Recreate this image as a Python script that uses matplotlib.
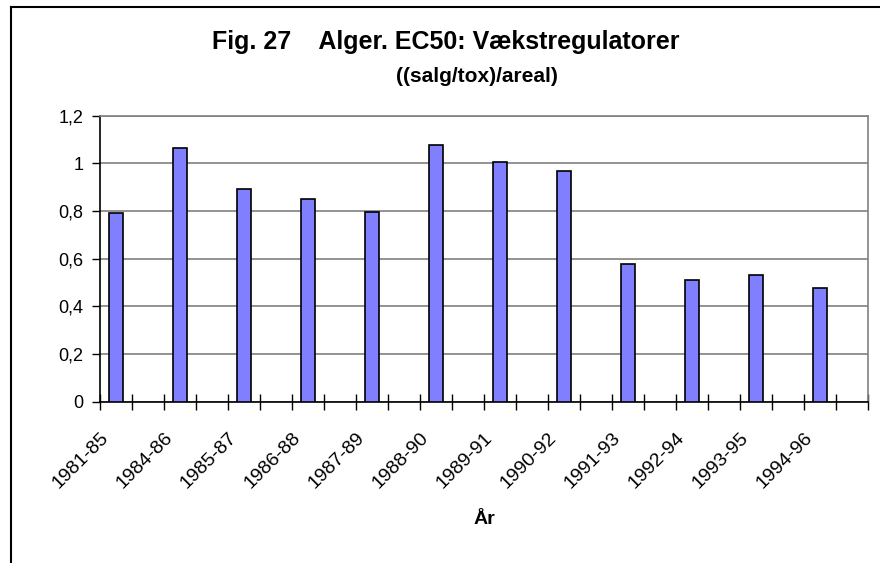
import numpy as np
import matplotlib.pyplot as plt
from matplotlib.lines import Line2D
from matplotlib.ticker import FuncFormatter, MultipleLocator
from matplotlib.transforms import ScaledTranslation

plt.rcParams['font.family'] = ['Liberation Sans', 'DejaVu Sans']

# perioder og værdier
perioder = ['1981-85', '1984-86', '1985-87', '1986-88', '1987-89', '1988-90',
            '1989-91', '1990-92', '1991-93', '1992-94', '1993-95', '1994-96']
vaerdier = [0.79, 1.066, 0.891, 0.849, 0.797, 1.076,
            1.007, 0.967, 0.579, 0.512, 0.530, 0.478]

fig = plt.figure(figsize=(8.8, 5.63), dpi=100)
ax = fig.add_axes([100 / 880, 1 - 401.7 / 563, 768 / 880, 286 / 563])

# hver periode står i hver anden kategori, tomme kategorier imellem
x = np.arange(len(perioder)) * 2
ax.bar(x, vaerdier, width=0.42, color='#8080FF', edgecolor='black',
       linewidth=1.2, zorder=3)

ax.set_xlim(-0.5, 2 * len(perioder) - 0.5)
ax.set_ylim(0, 1.2)
ax.yaxis.set_major_locator(MultipleLocator(0.2))
ax.yaxis.set_major_formatter(FuncFormatter(lambda v, p: f'{v:g}'.replace('.', ',')))
ax.grid(axis='y', color='#808080', linewidth=1.2, zorder=0)

# kategorigrænser som krydsende tickmarks
ax.set_xticks(np.arange(-0.5, 2 * len(perioder)), minor=True)
ax.tick_params(axis='x', which='minor', direction='inout', length=11, width=1, color='black')
ax.set_xticks(x)
ax.set_xticklabels(perioder, rotation=45, ha='right', va='top', rotation_mode='anchor')
ax.tick_params(axis='x', which='major', length=0, pad=20, labelsize=14)
offset = ScaledTranslation(-16 / 100, 0, fig.dpi_scale_trans)
for lbl in ax.get_xticklabels():
    lbl.set_transform(lbl.get_transform() + offset)

ax.tick_params(axis='y', direction='out', length=6, width=1, pad=6, labelsize=13)

for side in ['top', 'right']:
    ax.spines[side].set_color('#808080')
    ax.spines[side].set_linewidth(1.2)
for side in ['left', 'bottom']:
    ax.spines[side].set_color('black')
    ax.spines[side].set_linewidth(1.2)

fig.text(446 / 880, 1 - 42 / 563, 'Fig. 27    Alger. EC50: Vækstregulatorer',
         ha='center', va='center', fontsize=18, fontweight='bold')
fig.text(477 / 880, 1 - 77 / 563, '((salg/tox)/areal)',
         ha='center', va='center', fontsize=15, fontweight='bold')
fig.text(484 / 880, 1 - 519 / 563, 'År', ha='center', va='center',
         fontsize=14, fontweight='bold')

# diagramramme (kun venstre og øverste kant synlig)
fig.add_artist(Line2D([11 / 880, 11 / 880], [0, 1 - 7 / 563], color='black', linewidth=1.5))
fig.add_artist(Line2D([11 / 880, 1], [1 - 7 / 563, 1 - 7 / 563], color='black', linewidth=1.5))

fig.savefig('out.png', dpi=100)
